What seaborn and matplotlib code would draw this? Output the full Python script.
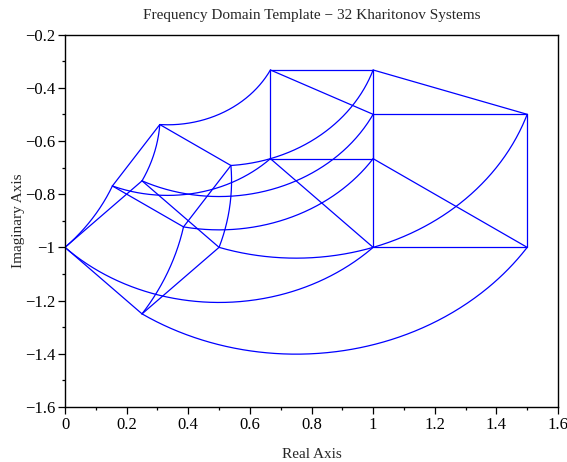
import numpy as np
import pandas as pd
import matplotlib
matplotlib.use("Agg")
import matplotlib.pyplot as plt
import seaborn as sns
from matplotlib.ticker import MultipleLocator, FixedLocator, FuncFormatter

# Value sets at the evaluated frequency (Kharitonov rectangles)
num_re = [2 / 3, 1.0]      # numerator real-part interval
num_im = [-2 / 3, -1 / 3]  # numerator imaginary-part interval
den_re = [2 / 3, 1.0]      # denominator real-part interval
den_im = [0.0, 2 / 3]      # denominator imaginary-part interval

x_ticks = [0, 0.2, 0.4, 0.6, 0.8, 1.0, 1.2, 1.4, 1.6]
y_ticks = [-1.6, -1.4, -1.2, -1.0, -0.8, -0.6, -0.4, -0.2]

title = "Frequency Domain Template \u2212 32 Kharitonov Systems"
x_label = "Real Axis"
y_label = "Imaginary Axis"


def corners(re, im):
    """Vertices of an axis-parallel rectangle, walked around its border."""
    return [complex(re[0], im[0]), complex(re[1], im[0]),
            complex(re[1], im[1]), complex(re[0], im[1])]


def edges(verts):
    return [(verts[k], verts[(k + 1) % len(verts)]) for k in range(len(verts))]


num_v = corners(num_re, num_im)
den_v = corners(den_re, den_im)
t = np.linspace(0.0, 1.0, 300)

rows = []
eid = 0
# fixed denominator vertex, numerator walking an edge -> straight segment
for d in den_v:
    for a, b in edges(num_v):
        g = (a + t * (b - a)) / d
        rows.append(pd.DataFrame({"re": g.real, "im": g.imag,
                                  "edge": eid, "k": np.arange(t.size)}))
        eid += 1
# fixed numerator vertex, denominator walking an edge -> circular arc
for n in num_v:
    for a, b in edges(den_v):
        g = n / (a + t * (b - a))
        rows.append(pd.DataFrame({"re": g.real, "im": g.imag,
                                  "edge": eid, "k": np.arange(t.size)}))
        eid += 1
template = pd.concat(rows, ignore_index=True)

sns.set_style("white")
plt.rcParams["font.family"] = ["Liberation Serif", "DejaVu Serif"]
plt.rcParams["axes.unicode_minus"] = True

fig = plt.figure(figsize=(5.67, 4.62), dpi=100)
ax = fig.add_axes([65 / 567, 1 - 407 / 462, (558 - 65) / 567, (407 - 34.5) / 462])

sns.lineplot(data=template, x="re", y="im", units="edge", estimator=None,
             sort=False, color="#0000ff", linewidth=0.9, ax=ax, legend=False)

ax.set_xlim(0, 1.6)
ax.set_ylim(-1.6, -0.2)
ax.xaxis.set_major_locator(FixedLocator(x_ticks))
ax.yaxis.set_major_locator(FixedLocator(y_ticks))
ax.xaxis.set_minor_locator(MultipleLocator(0.1))
ax.yaxis.set_minor_locator(MultipleLocator(0.1))
fmt = FuncFormatter(lambda v, p: ("%g" % round(v, 6)).replace("-", "\u2212"))
ax.xaxis.set_major_formatter(fmt)
ax.yaxis.set_major_formatter(fmt)

ax.tick_params(which="both", direction="out", top=False, right=False,
               bottom=True, left=True, colors="black", labelsize=12, width=0.9)
ax.tick_params(which="major", length=5, pad=2)
ax.tick_params(which="minor", length=2.5)
for s in ax.spines.values():
    s.set_visible(True)
    s.set_color("black")
    s.set_linewidth(1.0)

ax.set_title(title, fontsize=11, pad=11)
ax.set_xlabel(x_label, fontsize=11, labelpad=11)
ax.set_ylabel(y_label, fontsize=11, labelpad=0)

fig.savefig("out.png", dpi=100, facecolor="white")
